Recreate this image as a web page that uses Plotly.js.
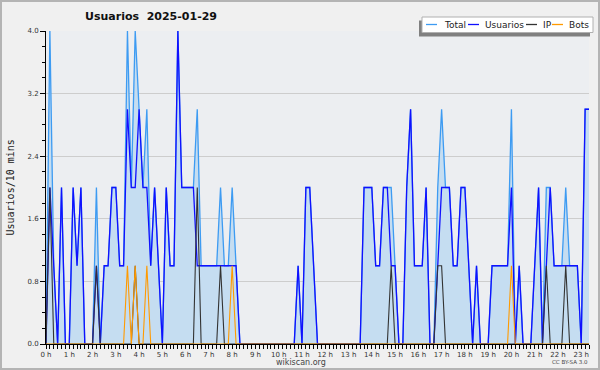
<!DOCTYPE html>
<html>
<head>
<meta charset="utf-8">
<script src="https://cdn.plot.ly/plotly-3.0.1.min.js"></script>
<style>
  html, body { margin: 0; padding: 0; background: #f0f0f0; }
  #wrap { position: relative; width: 600px; height: 370px; }
  #chart { width: 600px; height: 370px; }
  #frame { position: absolute; left: 0; top: 0; width: 600px; height: 370px; box-sizing: border-box;
           border: 2px solid #b4b4b4; pointer-events: none; }
</style>
</head>
<body>
<div id="wrap"><div id="chart"></div><div id="frame"></div></div>
<script>
// ---- data: one value per 10-minute slot, 00:00 .. 23:20 (6 per hour) ----
const hourLabels = ['0 h','1 h','2 h','3 h','4 h','5 h','6 h','7 h','8 h','9 h','10 h','11 h',
                    '12 h','13 h','14 h','15 h','16 h','17 h','18 h','19 h','20 h','21 h','22 h','23 h'];

const total = [
  0,4,1,0,2,0,  0,2,1,2,0,0,  0,2,0,1,1,2,  2,1,1,4,2,4,  3,2,3,1,2,1,  0,2,1,1,4,2,
  2,2,2,3,1,1,  1,1,1,2,1,1,  2,1,0,0,0,0,  0,0,0,0,0,0,  0,0,0,0,0,1,  0,2,2,1,0,0,
  0,0,0,0,0,0,  0,0,0,0,2,2,  2,1,1,2,2,2,  1,0,0,2,3,1,  1,1,2,0,0,2,  3,2,2,1,1,2,
  2,1,0,1,0,0,  0,1,1,1,1,1,  3,0,1,0,0,0,  1,2,0,2,2,1,  1,1,2,1,1,1,  0,3,3
];
const usuarios = [
  0,2,1,0,2,0,  0,2,1,2,0,0,  0,1,0,1,1,2,  2,1,1,3,2,2,  3,2,2,1,2,1,  0,2,1,1,4,2,
  2,2,2,1,1,1,  1,1,1,1,1,1,  1,1,0,0,0,0,  0,0,0,0,0,0,  0,0,0,0,0,1,  0,2,2,1,0,0,
  0,0,0,0,0,0,  0,0,0,0,2,2,  2,1,1,2,2,1,  1,0,0,2,3,1,  1,1,2,0,0,1,  2,2,2,1,1,2,
  2,1,0,1,0,0,  0,1,1,1,1,1,  2,0,1,0,0,0,  1,2,0,1,2,1,  1,1,1,1,1,1,  0,3,3
];
const ip = [
  0,2,0,0,0,0,  0,0,0,0,0,0,  0,1,0,0,0,0,  0,0,0,0,0,1,  0,0,0,0,0,0,  0,0,0,0,0,0,
  0,0,0,2,0,0,  0,0,0,1,0,0,  0,0,0,0,0,0,  0,0,0,0,0,0,  0,0,0,0,0,0,  0,0,0,0,0,0,
  0,0,0,0,0,0,  0,0,0,0,0,0,  0,0,0,0,0,1,  0,0,0,0,0,0,  0,0,0,0,0,1,  1,0,0,0,0,0,
  0,0,0,0,0,0,  0,0,0,0,0,0,  0,0,0,0,0,0,  0,0,0,1,0,0,  0,0,1,0,0,0,  0,0,0
];
const bots = [
  0,0,0,0,0,0,  0,0,0,0,0,0,  0,0,0,0,0,0,  0,0,0,1,0,1,  0,0,1,0,0,0,  0,0,0,0,0,0,
  0,0,0,0,0,0,  0,0,0,0,0,0,  1,0,0,0,0,0,  0,0,0,0,0,0,  0,0,0,0,0,0,  0,0,0,0,0,0,
  0,0,0,0,0,0,  0,0,0,0,0,0,  0,0,0,0,0,0,  0,0,0,0,0,0,  0,0,0,0,0,0,  0,0,0,0,0,0,
  0,0,0,0,0,0,  0,0,0,0,0,0,  1,0,0,0,0,0,  0,0,0,0,0,0,  0,0,0,0,0,0,  0,0,0
];
const seriesNames = ['Total', 'Usuarios', 'IP', 'Bots'];
const yTicks = [0, 0.8, 1.6, 2.4, 3.2, 4.0];

// x in hours: slot index / 6
const xHours = usuarios.map((_, i) => i / 6);
const hourVals = hourLabels.map((_, i) => i);

const C = { total: '#3d9bf2', fill: 'rgba(197,221,241,1)', usuarios: '#1010ff', ip: '#333333', bots: '#ff9a00' };

const traces = [
  { x: xHours, y: total, name: seriesNames[0], type: 'scatter', mode: 'lines', fill: 'tozeroy',
    fillcolor: C.fill, line: { color: C.total, width: 1.3 } },
  { x: xHours, y: usuarios, name: seriesNames[1], type: 'scatter', mode: 'lines',
    line: { color: C.usuarios, width: 1.3 } },
  { x: xHours, y: ip, name: seriesNames[2], type: 'scatter', mode: 'lines',
    line: { color: C.ip, width: 1.1 } },
  { x: xHours, y: bots, name: seriesNames[3], type: 'scatter', mode: 'lines',
    line: { color: C.bots, width: 1.1 } }
];

// pixel helpers (plot area: x 46..589, y 31..344)
const L = 46, R = 589, T = 31, B = 344;
const px = v => (v - L) / (R - L);
const py = v => (B - v) / (B - T);

const legendItems = [
  { name: seriesNames[0], color: C.total, x0: 426, tx: 443 },
  { name: seriesNames[1], color: C.usuarios, x0: 468, tx: 484 },
  { name: seriesNames[2], color: C.ip, x0: 526, tx: 542 },
  { name: seriesNames[3], color: C.bots, x0: 552, tx: 568 }
];
const legY = 24.5;

const shapes = [
  { type: 'rect', xref: 'paper', yref: 'paper', layer: 'above', x0: px(419), x1: px(590), y0: py(36.5), y1: py(20.5),
    fillcolor: '#808080', line: { width: 0 } },
  { type: 'rect', xref: 'paper', yref: 'paper', layer: 'above', x0: px(422), x1: px(593), y0: py(32.5), y1: py(17),
    fillcolor: '#ffffff', line: { color: '#b0b0b0', width: 1 } }
];
const annotations = [];
legendItems.forEach(it => {
  shapes.push({ type: 'line', xref: 'paper', yref: 'paper', layer: 'above', x0: px(it.x0), x1: px(it.x0 + 11),
    y0: py(legY), y1: py(legY), line: { color: it.color, width: 1.3 } });
  annotations.push({ xref: 'paper', yref: 'paper', x: px(it.tx), y: py(legY), xanchor: 'left', yanchor: 'middle',
    text: it.name, showarrow: false, borderpad: 0, font: { family: 'DejaVu Sans', size: 9, color: '#222' } });
});
annotations.push(
  { xref: 'paper', yref: 'paper', x: px(10), y: 0.5, text: 'Usuarios/10 mins', textangle: -90, showarrow: false,
    xanchor: 'center', yanchor: 'middle', font: { family: 'DejaVu Sans Mono', size: 10, color: '#222' } },
  { xref: 'paper', yref: 'paper', x: px(301), y: py(362), text: 'wikiscan.org', showarrow: false,
    xanchor: 'center', yanchor: 'middle', font: { family: 'DejaVu Sans', size: 8, color: '#444' } },
  { xref: 'paper', yref: 'paper', x: px(590), y: py(362), text: 'CC BY-SA 3.0', showarrow: false,
    xanchor: 'right', yanchor: 'middle', font: { family: 'DejaVu Sans', size: 5.5, color: '#444' } }
);

const layout = {
  width: 600, height: 370,
  margin: { l: L, r: 600 - R, t: T, b: 370 - B, pad: 0 },
  paper_bgcolor: '#f0f0f0', plot_bgcolor: '#eceef1',
  showlegend: false,
  title: { text: 'Usuarios\u00a0\u00a02025-01-29', x: 151 / 600, xref: 'container', xanchor: 'center',
           y: 1 - 16 / 370, yref: 'container', yanchor: 'middle',
           font: { family: 'DejaVu Sans', size: 11, color: '#111', weight: 'bold' } },
  xaxis: {
    range: [0, xHours[xHours.length - 1]], tickmode: 'array', tickvals: hourVals, ticktext: hourLabels,
    ticks: 'outside', ticklen: 4, tickwidth: 1, tickcolor: '#000',
    minor: { tickmode: 'linear', tick0: 0, dtick: 1 / 6, ticks: 'outside', ticklen: 4, tickwidth: 1, tickcolor: '#000', showgrid: false },
    showline: true, linecolor: '#000', linewidth: 1, showgrid: false, zeroline: false,
    tickfont: { family: 'DejaVu Sans', size: 7, color: '#333' }, fixedrange: true
  },
  yaxis: {
    range: [0, 4], tickmode: 'array', tickvals: yTicks, ticktext: yTicks.map(v => v.toFixed(1)),
    ticks: 'outside', ticklen: 5, tickwidth: 1, tickcolor: '#000',
    minor: { tickmode: 'linear', tick0: 0, dtick: 0.2, ticks: 'outside', ticklen: 3, tickwidth: 1, tickcolor: '#000', showgrid: false },
    showline: true, linecolor: '#000', linewidth: 1, showgrid: true, gridcolor: '#cdcdcd', gridwidth: 1, zeroline: false,
    tickfont: { family: 'DejaVu Sans', size: 7, color: '#333' }, fixedrange: true
  },
  shapes: shapes,
  annotations: annotations
};

Plotly.newPlot('chart', traces, layout, { displayModeBar: false, staticPlot: true });
</script>
</body>
</html>
